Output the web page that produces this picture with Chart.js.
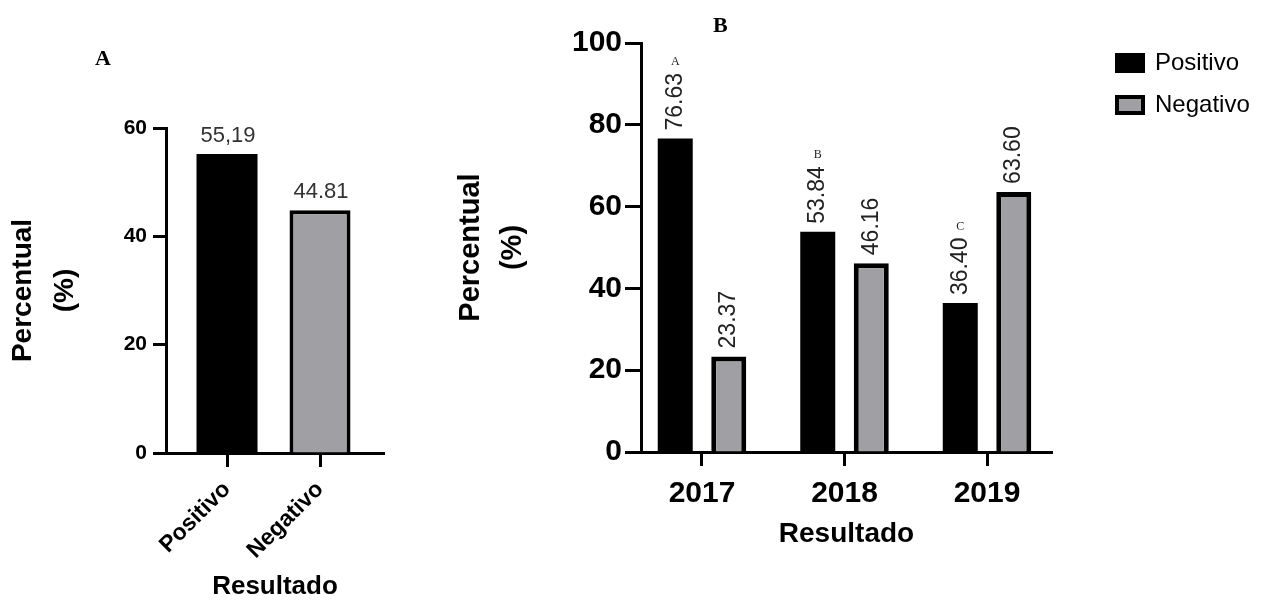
<!DOCTYPE html>
<html lang="pt">
<head>
<meta charset="utf-8">
<title>Resultado</title>
<script src="https://cdn.jsdelivr.net/npm/chart.js@4.4.1/dist/chart.umd.min.js"></script>
<style>
  html, body { margin: 0; padding: 0; background: #fff; }
  #wrap { position: relative; width: 1274px; height: 603px; overflow: hidden; }
  .box { position: absolute; top: 0; height: 603px; }
  #boxA { left: 0; width: 430px; }
  #boxB { left: 430px; width: 844px; }
  .letra { position: absolute; font: bold 22px "Liberation Serif", "Times New Roman", serif; line-height: 22px; color: #000; }
</style>
</head>
<body>
<div id="wrap">
  <div class="box" id="boxA"><canvas id="chartA"></canvas></div>
  <div class="box" id="boxB"><canvas id="chartB"></canvas></div>
  <div class="letra" style="left:95px; top:47px;">A</div>
  <div class="letra" style="left:713px; top:14px;">B</div>
</div>
<script>
// painel A
const categoriasA = ['Positivo', 'Negativo'];
const valoresA = [55.19, 44.81];
const rotulosA = ['55,19', '44.81'];
const ticksA = [0, 20, 40, 60];

// painel B
const anos = ['2017', '2018', '2019'];
const positivo = [76.63, 53.84, 36.40];
const negativo = [23.37, 46.16, 63.60];
const letras = ['A', 'B', 'C'];
const ticksB = [0, 20, 40, 60, 80, 100];

const PRETO = '#000000';
const CINZA = '#a0a0a4';
const FONTE = '"Liberation Sans", Arial, Helvetica, sans-serif';

Chart.defaults.font.family = FONTE;
Chart.defaults.color = PRETO;
Chart.defaults.animation = false;

// valores em cima das barras do painel A
const rotulosPluginA = {
    id: 'rotulosA',
    afterDatasetsDraw(chart) {
        const ctx = chart.ctx;
        ctx.save();
        ctx.font = '22px ' + FONTE;
        ctx.fillStyle = '#333';
        ctx.textAlign = 'center';
        ctx.textBaseline = 'alphabetic';
        chart.getDatasetMeta(0).data.forEach((b, i) => {
            ctx.fillText(rotulosA[i], b.x + 1, b.y - 12);
        });
        ctx.restore();
    }
};

// valores verticais + letras do painel B
const rotulosPluginB = {
    id: 'rotulosB',
    afterDatasetsDraw(chart) {
        const ctx = chart.ctx;
        chart.data.datasets.forEach((ds, d) => {
            chart.getDatasetMeta(d).data.forEach((b, i) => {
                const txt = ds.data[i].y.toFixed(2);
                ctx.save();
                ctx.font = '23px ' + FONTE;
                ctx.fillStyle = '#222';
                const w = ctx.measureText(txt).width;
                ctx.translate(b.x, b.y - 8);
                ctx.rotate(-Math.PI / 2);
                ctx.textAlign = 'left';
                ctx.textBaseline = 'middle';
                ctx.fillText(txt, 0, 0);
                ctx.restore();
                if (d === 0) {
                    ctx.save();
                    ctx.font = '12px "Liberation Serif", "Times New Roman", serif';
                    ctx.fillStyle = '#222';
                    ctx.textAlign = 'center';
                    ctx.textBaseline = 'middle';
                    ctx.fillText(letras[i], b.x, b.y - 8 - w - 11);
                    ctx.restore();
                }
            });
        });
    }
};

// empurra a legenda para a direita, longe do eixo
const legendaPos = {
    id: 'legendaPos',
    afterLayout(chart) {
        const lg = chart.legend;
        lg.left = 669;
        lg.right = lg.left + lg.width;
        lg.top = 33;
        lg.bottom = lg.top + lg.height;
    }
};

new Chart(document.getElementById('chartA'), {
    type: 'bar',
    data: {
        datasets: [{
            data: categoriasA.map((c, i) => ({ x: i + 1, y: valoresA[i] })),
            backgroundColor: [PRETO, CINZA],
            borderColor: PRETO,
            borderWidth: [0, 4],
            categoryPercentage: 1,
            barPercentage: 0.656
        }]
    },
    options: {
        responsive: true,
        maintainAspectRatio: false,
        layout: { padding: { top: 128, right: 46, bottom: 0, left: 0 } },
        plugins: { legend: { display: false }, tooltip: { enabled: false } },
        scales: {
            x: {
                type: 'linear',
                min: 0.344,
                max: 2.688,
                offset: false,
                afterBuildTicks: s => { s.ticks = categoriasA.map((c, i) => ({ value: i + 1 })); },
                afterFit: s => { s.height = 150; s.paddingLeft = 0; s.paddingRight = 0; },
                grid: { offset: false, drawOnChartArea: false, tickLength: 14, tickWidth: 3, tickColor: PRETO },
                border: { color: PRETO, width: 3 },
                ticks: {
                    autoSkip: false, minRotation: 45, maxRotation: 45, padding: 9, color: PRETO,
                    font: { size: 23, weight: 'bold' },
                    callback: v => categoriasA[v - 1]
                },
                title: { display: true, text: 'Resultado', color: PRETO, font: { size: 26, weight: 'bold' }, padding: { top: 0, bottom: 1 } }
            },
            y: {
                min: 0,
                max: 60,
                afterBuildTicks: s => { s.ticks = ticksA.map(v => ({ value: v })); },
                afterFit: s => { s.width = 166; },
                grid: { drawOnChartArea: false, tickLength: 13, tickWidth: 3, tickColor: PRETO },
                border: { color: PRETO, width: 3 },
                ticks: { padding: 6, color: PRETO, font: { size: 21, weight: 'bold' } },
                title: {
                    display: true, text: ['Percentual', '(%)'], color: PRETO,
                    font: { size: 28, weight: 'bold', lineHeight: 1.5 }, padding: { top: 2, bottom: 0 }
                }
            }
        }
    },
    plugins: [rotulosPluginA]
});

new Chart(document.getElementById('chartB'), {
    type: 'bar',
    data: {
        datasets: [{
            label: 'Positivo',
            data: anos.map((a, i) => ({ x: i + 1, y: positivo[i] })),
            backgroundColor: PRETO,
            borderColor: PRETO,
            borderWidth: 0,
            categoryPercentage: 0.751,
            barPercentage: 0.654
        }, {
            label: 'Negativo',
            data: anos.map((a, i) => ({ x: i + 1, y: negativo[i] })),
            backgroundColor: CINZA,
            borderColor: PRETO,
            borderWidth: 5,
            categoryPercentage: 0.751,
            barPercentage: 0.654
        }]
    },
    options: {
        responsive: true,
        maintainAspectRatio: false,
        layout: { padding: { top: 43, right: 62, bottom: 0, left: 0 } },
        plugins: {
            tooltip: { enabled: false },
            legend: {
                position: 'right',
                align: 'start',
                maxWidth: 160,
                labels: {
                    boxWidth: 26,
                    boxHeight: 16,
                    padding: 18,
                    color: PRETO,
                    font: { size: 24 },
                    generateLabels: chart => Chart.defaults.plugins.legend.labels.generateLabels(chart)
                        .map(item => Object.assign(item, { lineWidth: 4, strokeStyle: PRETO }))
                }
            }
        },
        scales: {
            x: {
                type: 'linear',
                min: 0.572,
                max: 3.456,
                offset: false,
                afterBuildTicks: s => { s.ticks = anos.map((a, i) => ({ value: i + 1 })); },
                afterFit: s => { s.height = 151; s.paddingLeft = 0; s.paddingRight = 0; },
                grid: { offset: false, drawOnChartArea: false, tickLength: 14, tickWidth: 3, tickColor: PRETO },
                border: { color: PRETO, width: 3 },
                ticks: {
                    autoSkip: false, maxRotation: 0, padding: 10, color: PRETO,
                    font: { size: 30, weight: 'bold' },
                    callback: v => anos[v - 1]
                },
                title: { display: true, text: 'Resultado', color: PRETO, font: { size: 28, weight: 'bold' }, padding: { top: 0, bottom: 52 } }
            },
            y: {
                min: 0,
                max: 100,
                afterBuildTicks: s => { s.ticks = ticksB.map(v => ({ value: v })); },
                afterFit: s => { s.width = 211; },
                grid: { drawOnChartArea: false, tickLength: 16, tickWidth: 3, tickColor: PRETO },
                border: { color: PRETO, width: 3 },
                ticks: { padding: 3, color: PRETO, font: { size: 30, weight: 'bold' } },
                title: {
                    display: true, text: ['Percentual', '(%)'], color: PRETO,
                    font: { size: 29, weight: 'bold', lineHeight: 1.45 }, padding: { top: 20, bottom: 0 }
                }
            }
        }
    },
    plugins: [rotulosPluginB, legendaPos]
});
</script>
</body>
</html>
